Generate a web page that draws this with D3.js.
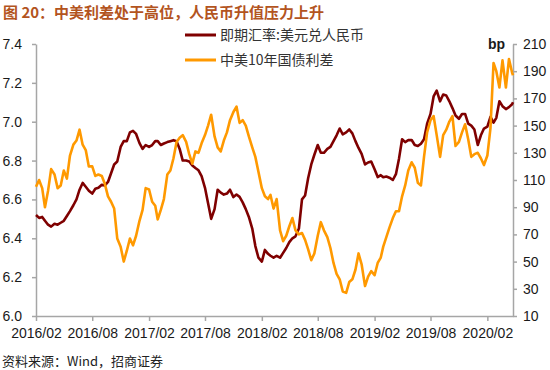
<!DOCTYPE html>
<html>
<head>
<meta charset="utf-8">
<script src="https://cdn.jsdelivr.net/npm/d3@7/dist/d3.min.js"></script>
<style>
  html, body { margin: 0; padding: 0; background: #fff; }
  svg { display: block; }
</style>
</head>
<body>
<svg id="chart" width="550" height="370"></svg>
<script>
// ---------------- DATA ----------------
const titleText = "图 20：中美利差处于高位，人民币升值压力上升";
const sourceText = "资料来源：Wind，招商证券";
const seriesNames = ["即期汇率:美元兑人民币", "中美10年国债利差"];
const unitLabel = "bp";

const dates = [
"2016-02-01","2016-02-11","2016-02-21","2016-03-01","2016-03-11","2016-03-21",
"2016-04-01","2016-04-11","2016-04-21","2016-05-01","2016-05-11","2016-05-21",
"2016-06-01","2016-06-11","2016-06-21","2016-07-01","2016-07-11","2016-07-21",
"2016-08-01","2016-08-11","2016-08-21","2016-09-01","2016-09-11","2016-09-21",
"2016-10-01","2016-10-11","2016-10-21","2016-11-01","2016-11-11","2016-11-21",
"2016-12-01","2016-12-11","2016-12-21","2017-01-01","2017-01-11","2017-01-21",
"2017-02-01","2017-02-11","2017-02-21","2017-03-01","2017-03-11","2017-03-21",
"2017-04-01","2017-04-11","2017-04-21","2017-05-01","2017-05-11","2017-05-21",
"2017-06-01","2017-06-11","2017-06-21","2017-07-01","2017-07-11","2017-07-21",
"2017-08-01","2017-08-11","2017-08-21","2017-09-01","2017-09-11","2017-09-21",
"2017-10-01","2017-10-11","2017-10-21","2017-11-01","2017-11-11","2017-11-21",
"2017-12-01","2017-12-11","2017-12-21","2018-01-01","2018-01-11","2018-01-21",
"2018-02-01","2018-02-11","2018-02-21","2018-03-01","2018-03-11","2018-03-21",
"2018-04-01","2018-04-11","2018-04-21","2018-05-01","2018-05-11","2018-05-21",
"2018-06-01","2018-06-11","2018-06-21","2018-07-01","2018-07-11","2018-07-21",
"2018-08-01","2018-08-11","2018-08-21","2018-09-01","2018-09-11","2018-09-21",
"2018-10-01","2018-10-11","2018-10-21","2018-11-01","2018-11-11","2018-11-21",
"2018-12-01","2018-12-11","2018-12-21","2019-01-01","2019-01-11","2019-01-21",
"2019-02-01","2019-02-11","2019-02-21","2019-03-01","2019-03-11","2019-03-21",
"2019-04-01","2019-04-11","2019-04-21","2019-05-01","2019-05-11","2019-05-21",
"2019-06-01","2019-06-11","2019-06-21","2019-07-01","2019-07-11","2019-07-21",
"2019-08-01","2019-08-11","2019-08-21","2019-09-01","2019-09-11","2019-09-21",
"2019-10-01","2019-10-11","2019-10-21","2019-11-01","2019-11-11","2019-11-21",
"2019-12-01","2019-12-11","2019-12-21","2020-01-01","2020-01-11","2020-01-21",
"2020-02-01","2020-02-11","2020-02-21","2020-03-01","2020-03-11","2020-03-21",
"2020-04-01","2020-04-11","2020-04-21","2020-04-24"
];

// USD/CNY spot (left axis)
const usdcny = [
6.52,6.505,6.51, 6.49,6.47,6.46, 6.475,6.47,6.48, 6.49,6.515,6.54,
6.57,6.60,6.65, 6.685,6.665,6.645, 6.63,6.655,6.66, 6.675,6.672,6.69,
6.735,6.78,6.795, 6.87,6.90,6.90, 6.945,6.953,6.937, 6.89,6.86,6.88,
6.87,6.88,6.90, 6.90,6.88,6.888, 6.895,6.90,6.905, 6.90,6.86,6.80,
6.80,6.795,6.775, 6.762,6.75,6.72, 6.66,6.58,6.50, 6.55,6.65,6.635,
6.625,6.63,6.65, 6.612,6.625,6.613, 6.585,6.55,6.51, 6.45,6.36,6.30,
6.28,6.34,6.32, 6.31,6.30,6.31, 6.30,6.325,6.35, 6.38,6.40,6.41,
6.45,6.60,6.62, 6.71,6.78,6.83, 6.88,6.84,6.84, 6.86,6.87,6.90,
6.93,6.965,6.935, 6.945,6.96,6.94, 6.90,6.865,6.835, 6.78,6.79,6.795,
6.755,6.715,6.725, 6.714,6.718,6.712, 6.70,6.73,6.81, 6.91,6.895,6.905,
6.906,6.88,6.875, 6.887,6.91,6.99, 7.04,7.13,7.16, 7.105,7.14,7.135,
7.105,7.07,7.032, 7.015,7.04,7.04, 6.99,6.98,6.96, 6.88,6.93,6.965,
6.975,7.025,6.995, 7.02,7.105,7.08, 7.065,7.075,7.09,7.10
];

// China-US 10Y yield spread, bp (right axis)
const spread = [
105,110,104, 90,102,118, 114,104,106, 117,111,128,
136,139,147, 136,132,120, 120,113,114, 113,107,98,
94,89,67, 61,50,58, 67,62,69, 80,88,104,
103,94,91, 81,88,96, 114,117,126, 138,141,143,
138,129,122, 131,130,137, 143,150,158, 142,134,131,
139,145,154, 160,164,152, 154,150,142, 134,127,116,
104,98,96, 99,89,96, 73,65,69, 76,82,73,
70,71,66, 59,51,56, 69,79,73, 68,60,49,
41,37,28, 27,35,37, 44,56,48, 32,39,43,
40,49,53, 61,68,75, 82,87,87, 98,106,117,
123,119,108, 106,127,145, 154,157,143, 127,143,147,
153,157,135, 138,145,151, 140,127,129, 130,126,121,
128,148,196, 190,178,198, 178,199,189,187
];

const leftTicks = [6.0, 6.2, 6.4, 6.6, 6.8, 7.0, 7.2, 7.4];
const rightTicks = [10, 30, 50, 70, 90, 110, 130, 150, 170, 190, 210];
const xTickLabels = ["2016/02","2016/08","2017/02","2017/08","2018/02","2018/08","2019/02","2019/08","2020/02"];
const xDomain = ["2016-02-01", "2020-04-24"];

// ---------------- CHART ----------------
(function () {
const colors = ["#7f0000", "#ff9900"];
const numFont = "'Liberation Sans', Arial, sans-serif";
const cjkFont = "'Noto Sans CJK SC', 'Liberation Sans', sans-serif";
const axisColor = "#a6a6a6";
const textColor = "#1a1a1a";

const svg = d3.select("#chart");
const parse = d3.timeParse("%Y-%m-%d");
const parseLabel = d3.timeParse("%Y/%m");

const pL = 36, pR = 513, pT = 44, pB = 316;

const x = d3.scaleTime().domain(xDomain.map(parse)).range([pL, pR]);
const yL = d3.scaleLinear().domain([6.0, 7.4]).range([pB, pT]);
const yR = d3.scaleLinear().domain([10, 210]).range([pB, pT]);

svg.append("rect").attr("width", 550).attr("height", 370).attr("fill", "#fff");

// title
svg.append("text")
  .attr("x", 3).attr("y", 18)
  .attr("font-family", cjkFont)
  .attr("font-size", 15).attr("font-weight", "bold")
  .attr("fill", "#b3541e")
  .text(titleText);

function styleAxis(g) {
  g.select(".domain").attr("stroke", axisColor).attr("stroke-width", 1.5);
  g.selectAll(".tick line").attr("stroke", axisColor).attr("stroke-width", 1.5);
  g.selectAll(".tick text").attr("fill", textColor)
    .attr("font-family", numFont).attr("font-size", 14);
}

svg.append("g")
  .attr("transform", `translate(0,${pB})`)
  .call(d3.axisBottom(x)
    .tickValues(xTickLabels.map(parseLabel))
    .tickFormat(d3.timeFormat("%Y/%m"))
    .tickSize(5).tickSizeOuter(0).tickPadding(7))
  .call(styleAxis);

svg.append("g")
  .attr("transform", `translate(${pL},0)`)
  .call(d3.axisLeft(yL)
    .tickValues(leftTicks)
    .tickFormat(d3.format(".1f"))
    .tickSize(4).tickSizeOuter(0).tickPadding(10))
  .call(styleAxis);

svg.append("g")
  .attr("transform", `translate(${pR},0)`)
  .call(d3.axisRight(yR)
    .tickValues(rightTicks)
    .tickFormat(d3.format("d"))
    .tickSize(4).tickSizeOuter(0).tickPadding(6))
  .call(styleAxis);

const parsedDates = dates.map(parse);
const lineL = d3.line().x((d, i) => x(parsedDates[i])).y(d => yL(d));
const lineR = d3.line().x((d, i) => x(parsedDates[i])).y(d => yR(d));

svg.append("path").datum(usdcny)
  .attr("d", lineL).attr("fill", "none")
  .attr("stroke", colors[0]).attr("stroke-width", 2.6)
  .attr("stroke-linejoin", "round");

svg.append("path").datum(spread)
  .attr("d", lineR).attr("fill", "none")
  .attr("stroke", colors[1]).attr("stroke-width", 2.6)
  .attr("stroke-linejoin", "round");

svg.append("text")
  .attr("x", 505).attr("y", 49)
  .attr("text-anchor", "end")
  .attr("font-family", numFont).attr("font-size", 14).attr("font-weight", "bold")
  .attr("fill", textColor)
  .text(unitLabel);

const legend = svg.append("g");
seriesNames.forEach((name, i) => {
  const ly = 35 + i * 25;
  legend.append("line")
    .attr("x1", 185).attr("x2", 216).attr("y1", ly).attr("y2", ly)
    .attr("stroke", colors[i]).attr("stroke-width", 3);
  legend.append("text")
    .attr("x", 220).attr("y", ly).attr("dy", "0.36em")
    .attr("font-family", cjkFont).attr("font-size", 14)
    .attr("fill", "#333")
    .text(name);
});

svg.append("text")
  .attr("x", 2).attr("y", 366)
  .attr("font-family", cjkFont).attr("font-size", 13)
  .attr("fill", "#222")
  .text(sourceText);
})();
</script>
</body>
</html>
